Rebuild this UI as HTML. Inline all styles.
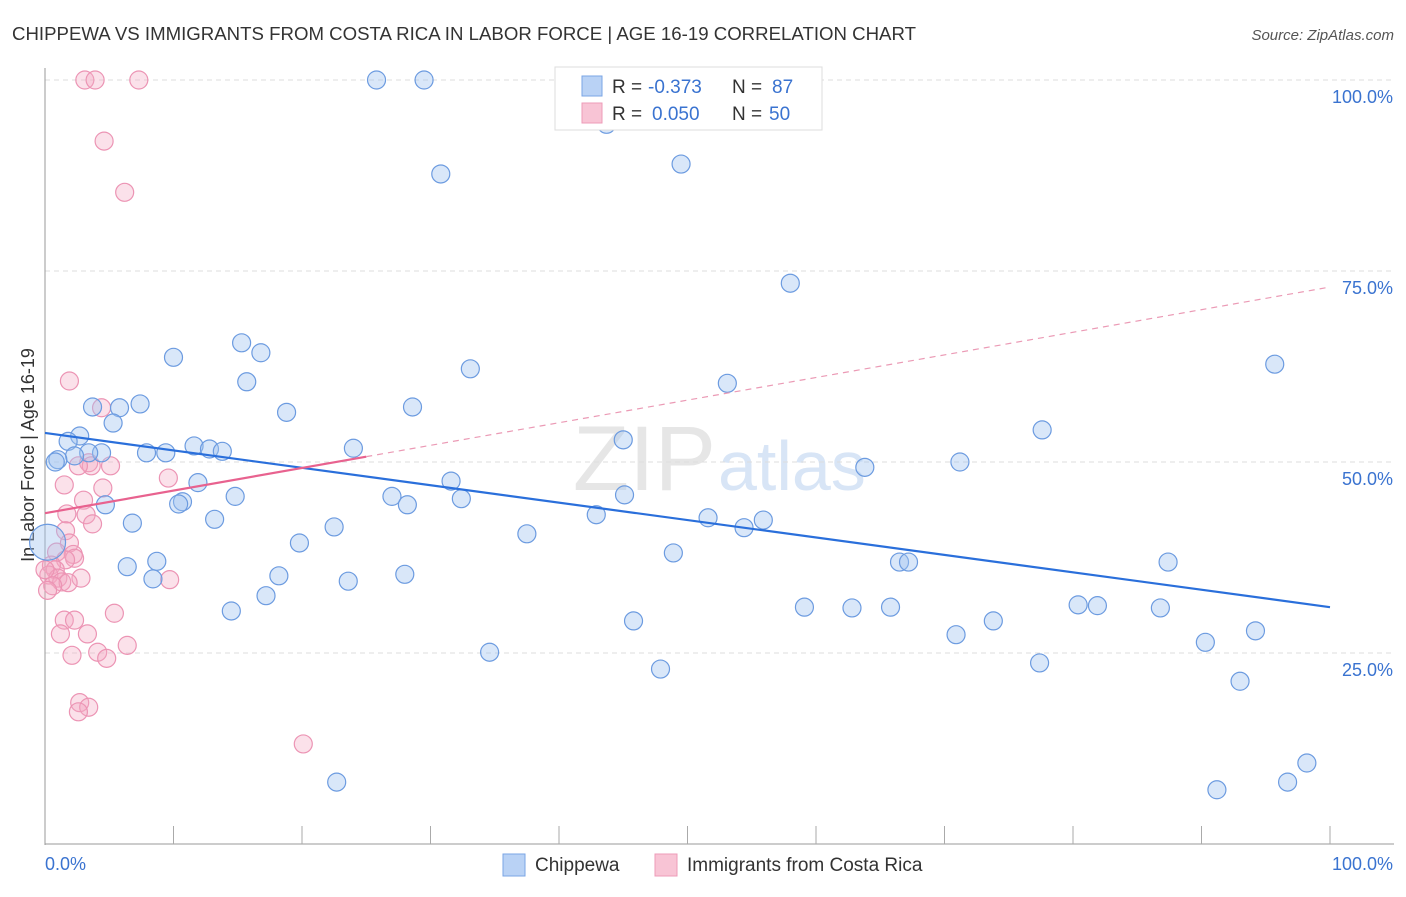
<!DOCTYPE html>
<html><head><meta charset="utf-8"><style>
body{margin:0;background:#fff;font-family:"Liberation Sans",sans-serif;}
svg text{font-family:"Liberation Sans",sans-serif;}
</style></head><body>
<svg id="chart" width="1406" height="892">
<text x="12" y="40" font-size="18" fill="#333" textLength="904" lengthAdjust="spacingAndGlyphs">CHIPPEWA VS IMMIGRANTS FROM COSTA RICA IN LABOR FORCE | AGE 16-19 CORRELATION CHART</text>
<text x="1394" y="40" font-size="15" fill="#555" text-anchor="end" font-style="italic">Source: ZipAtlas.com</text>
<text x="716" y="490" font-size="92" fill="#e6e6e6" text-anchor="end" font-family="Liberation Serif">ZIP</text>
<text x="718" y="490" font-size="70" fill="#d8e5f6">atlas</text>
<text x="34" y="455" font-size="18" fill="#333" text-anchor="middle" transform="rotate(-90 34 455)">In Labor Force | Age 16-19</text>
<g id="grid"></g><g id="axes"></g><g id="pts"></g><g id="lines"></g>
<g>
<rect x="555" y="67" width="267" height="63" fill="#fff" stroke="#ddd"/>
<rect x="582" y="76" width="20" height="20" fill="#b9d2f5" stroke="#7aa5e5"/>
<rect x="582" y="103" width="20" height="20" fill="#f8c4d5" stroke="#ee9bb8"/>
<text x="612" y="93" font-size="19" fill="#333">R =</text>
<text x="648" y="93" font-size="19" fill="#3a73d0">-0.373</text>
<text x="732" y="93" font-size="19" fill="#333">N =</text>
<text x="772" y="93" font-size="19" fill="#3a73d0">87</text>
<text x="612" y="120" font-size="19" fill="#333">R =</text>
<text x="652" y="120" font-size="19" fill="#3a73d0">0.050</text>
<text x="732" y="120" font-size="19" fill="#333">N =</text>
<text x="769" y="120" font-size="19" fill="#3a73d0">50</text>
</g>
<g>
<rect x="503" y="854" width="22" height="22" fill="#b9d2f5" stroke="#7aa5e5"/>
<text x="535" y="871" font-size="19" fill="#333">Chippewa</text>
<rect x="655" y="854" width="22" height="22" fill="#f8c4d5" stroke="#ee9bb8"/>
<text x="687" y="871" font-size="19" fill="#333">Immigrants from Costa Rica</text>
</g>
</svg>
<script>
const blueX=[25.8,29.5,43.7,30.8,49.5,58.0,95.7,10.0,15.3,16.8,15.7,33.1,53.1,3.7,5.8,7.4,18.8,28.6,5.3,2.7,1.8,45.0,77.6,24.0,11.6,12.8,13.8,9.4,7.9,4.4,3.4,2.3,1.0,0.8,63.8,71.2,31.6,11.9,14.8,27.0,32.4,45.1,10.7,10.4,28.2,4.7,13.2,42.9,51.6,55.9,54.4,6.8,22.5,37.5,19.8,48.9,8.7,66.5,67.2,87.4,6.4,18.2,28.0,8.4,23.6,17.2,14.5,59.1,62.8,65.8,80.4,81.9,86.8,45.8,73.8,70.9,94.2,90.3,34.6,47.9,77.4,93.0,22.7,91.2,96.7,98.2,0.2];
const blueY=[100,100,94.2,87.7,89.0,73.4,62.8,63.7,65.6,64.3,60.5,62.2,60.3,57.2,57.1,57.6,56.5,57.2,55.1,53.4,52.7,52.9,54.2,51.8,52.1,51.7,51.4,51.2,51.2,51.2,51.2,50.8,50.3,50.0,49.3,50.0,47.5,47.3,45.5,45.5,45.2,45.7,44.8,44.5,44.4,44.4,42.5,43.1,42.7,42.4,41.4,42.0,41.5,40.6,39.4,38.1,37.0,36.9,36.9,36.9,36.3,35.1,35.3,34.7,34.4,32.5,30.5,31.0,30.9,31.0,31.3,31.2,30.9,29.2,29.2,27.4,27.9,26.4,25.1,22.9,23.7,21.3,8.1,7.1,8.1,10.6,39.5];
const pinkX=[3.1,3.9,7.3,4.6,6.2,1.9,4.4,9.6,3.4,3.6,5.1,2.6,1.5,4.5,3.0,1.7,3.2,3.7,1.6,1.9,0.9,2.2,2.3,1.6,0.5,0.8,0.3,1.0,2.8,1.3,1.8,0.6,9.7,5.4,1.5,2.3,1.2,3.3,6.4,2.1,4.1,4.8,2.7,3.4,2.6,20.1,0.2,0.0];
const pinkY=[100,100,100,92.0,85.3,60.6,57.1,47.9,49.9,49.5,49.5,49.5,47.0,46.6,45.0,43.2,43.1,41.9,41.0,39.4,38.2,37.9,37.4,37.2,36.5,35.9,35.2,34.8,34.8,34.3,34.2,33.8,34.6,30.2,29.3,29.3,27.5,27.5,26.0,24.7,25.1,24.3,18.5,17.9,17.3,13.1,33.2,35.9];
const blueTrend=[53.8,31.0];
const pinkTrend=[43.3,72.9];
const yTicks=[25,50,75,100];
const yTickLabels=["25.0%","50.0%","75.0%","100.0%"];
const xTickCount=10;
const X=v=>45+v*12.85, Y=v=>844-v*7.64;
const NS="http://www.w3.org/2000/svg";
function mk(tag,parent,attrs){const e=document.createElementNS(NS,tag);for(const k in attrs)e.setAttribute(k,attrs[k]);document.getElementById(parent).appendChild(e);return e;}
yTicks.forEach((t,i)=>{
 const g=mk('line','grid',{x1:45,x2:1394,y1:Y(t),y2:Y(t),stroke:'#ddd','stroke-dasharray':'5,4'});
 
 
 const tx=mk('text','axes',{x:1393,y:Y(t)+23,'font-size':18,fill:'#3a73d0','text-anchor':'end'});
 tx.textContent=yTickLabels[i];
 
 
});
const ax=mk('line','axes',{x1:45,x2:45,y1:68,y2:845,stroke:'#999'});


const bx=mk('line','axes',{x1:45,x2:1394,y1:844,y2:844,stroke:'#999'});


for(let i=1;i<=xTickCount;i++){const t=mk('line','axes',{x1:X(i*10),x2:X(i*10),y1:826,y2:844,stroke:'#aaa'});
 
 }
[[ "0.0%",45,'start'],["100.0%",1393,'end']].forEach(a=>{const t=mk('text','axes',{x:a[1],y:870,'font-size':18,fill:'#3a73d0','text-anchor':a[2]});t.textContent=a[0];
 
 });
pinkX.forEach((v,i)=>{const c=mk('circle','pts',{cx:X(v),cy:Y(pinkY[i]),r:9,fill:'rgba(244,170,195,0.35)',stroke:'#ec94b4','stroke-width':1.2});
 
 });
blueX.forEach((v,i)=>{const c=mk('circle','pts',{cx:X(v),cy:Y(blueY[i]),r:(i==blueX.length-1?18:9),fill:'rgba(160,195,240,0.4)',stroke:'#6c9be0','stroke-width':1.2});
 
 });
const bl=mk('line','lines',{x1:X(0),y1:Y(blueTrend[0]),x2:X(100),y2:Y(blueTrend[1]),stroke:'#2a6fdb','stroke-width':2.2});


const pm=v=>pinkTrend[0]+(pinkTrend[1]-pinkTrend[0])*v/100;
const pl=mk('line','lines',{x1:X(0),y1:Y(pm(0)),x2:X(25),y2:Y(pm(25)),stroke:'#e8628f','stroke-width':2.2});


const pd=mk('line','lines',{x1:X(25),y1:Y(pm(25)),x2:X(100),y2:Y(pm(100)),stroke:'#eb9ab5','stroke-width':1.2,'stroke-dasharray':'6,5'});


</script>
</body></html>
